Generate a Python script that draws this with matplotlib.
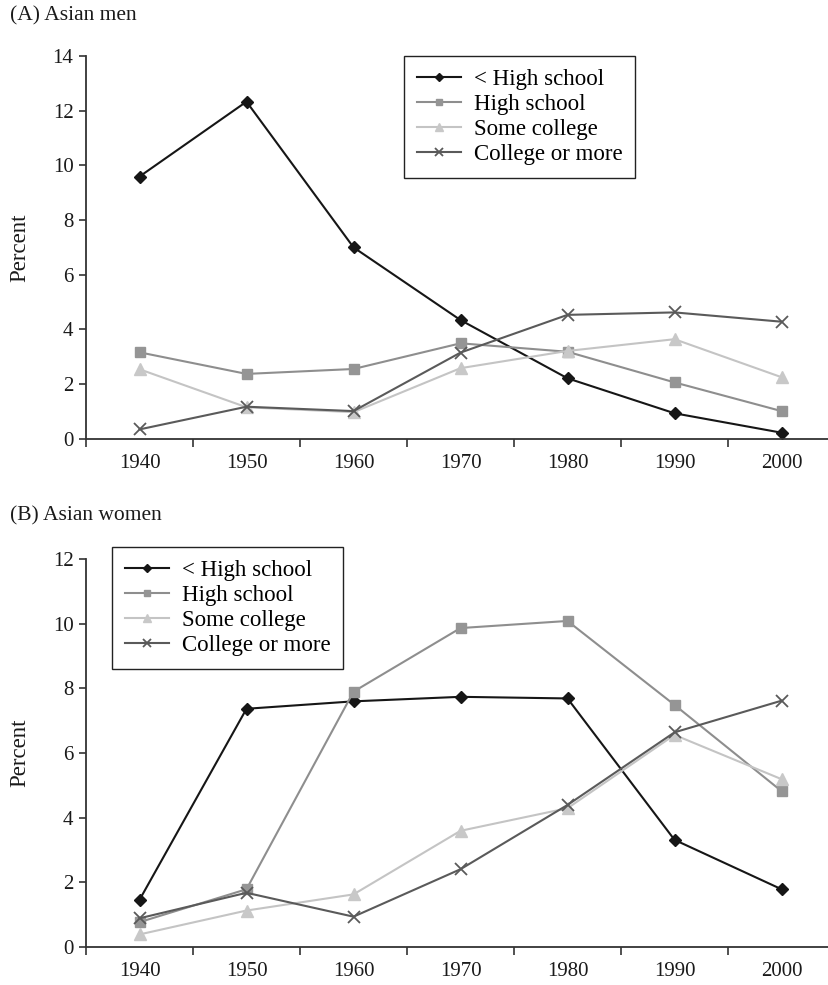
import matplotlib
matplotlib.use("Agg")
import matplotlib.pyplot as plt
import numpy as np

plt.rcParams['font.family'] = ['Liberation Serif', 'DejaVu Serif']

years = ['1940', '1950', '1960', '1970', '1980', '1990', '2000']
series_names = ['< High school', 'High school', 'Some college', 'College or more']

# (A) Asian men
men_lt_hs = [9.59, 12.33, 7.00, 4.34, 2.21, 0.93, 0.22]
men_hs = [3.16, 2.37, 2.55, 3.49, 3.18, 2.06, 1.01]
men_sc = [2.54, 1.15, 0.97, 2.58, 3.21, 3.64, 2.25]
men_col = [0.34, 1.17, 1.01, 3.15, 4.53, 4.62, 4.28]

# (B) Asian women
women_lt_hs = [1.45, 7.37, 7.60, 7.74, 7.69, 3.31, 1.78]
women_hs = [0.76, 1.78, 7.90, 9.87, 10.09, 7.49, 4.82]
women_sc = [0.38, 1.12, 1.62, 3.59, 4.29, 6.56, 5.19]
women_col = [0.88, 1.67, 0.93, 2.40, 4.39, 6.64, 7.62]

styles = [
    dict(color='#161616', marker='D', markersize=6.5, mfc='#161616', mec='#161616'),
    dict(color='#8e8e8e', marker='s', markersize=7, mfc='#959595', mec='#959595'),
    dict(color='#c4c4c4', marker='^', markersize=8, mfc='#c8c8c8', mec='#c8c8c8'),
    dict(color='#5a5a5a', marker='x', markersize=9, mew=1.3, mfc='#5a5a5a', mec='#5a5a5a'),
]

fig = plt.figure(figsize=(8.29, 9.85), dpi=100)
W, H = 829, 985
title_y = {'(A) Asian men': 16, '(B) Asian women': 516}


def panel(rect_px, data, ymax, title, legend_anchor):
    left, top, right, bottom = rect_px
    ax = fig.add_axes([left / W, 1 - bottom / H, (right - left) / W, (bottom - top) / H])
    x = np.arange(len(years)) + 0.5
    for vals, name, st in zip(data, series_names, styles):
        ax.plot(x, vals, label=name, linewidth=1.5, clip_on=False, **st)
    ax.set_xlim(0, len(years))
    ax.set_ylim(0, ymax)
    ax.set_yticks(np.arange(0, ymax + 1, 2))
    ax.set_xticks(np.arange(0, len(years) + 1))
    ax.set_xticklabels([])
    ax.set_xticks(x, minor=True)
    ax.set_xticklabels(years, minor=True)
    ax.tick_params(axis='x', which='major', length=6, width=1.2, color='#333333', direction='out')
    ax.tick_params(axis='x', which='minor', length=0, pad=11, labelsize=15, labelcolor='#1a1a1a')
    ax.tick_params(axis='y', length=5, width=1.2, color='#333333', pad=4, labelsize=15, labelcolor='#1a1a1a')
    for s in ['top', 'right']:
        ax.spines[s].set_visible(False)
    for s in ['left', 'bottom']:
        ax.spines[s].set_color('#333333')
        ax.spines[s].set_linewidth(1.3)
    ax.set_ylabel('Percent', fontsize=16.5, color='#1a1a1a')
    ax.yaxis.set_label_coords(-0.075, 0.5)
    fig.text(10 / W, 1 - title_y[title] / H, title, fontsize=15.5, color='#1a1a1a', va='center', ha='left')
    leg = ax.legend(loc='upper left', bbox_to_anchor=legend_anchor, borderaxespad=0,
                    fancybox=False, edgecolor='#222222', fontsize=16.5, handlelength=1.95,
                    labelspacing=0.18, borderpad=0.55, handletextpad=0.55, framealpha=1)
    leg.get_frame().set_linewidth(1.0)
    for h in leg.legend_handles:
        h.set_markersize(h.get_markersize() * 0.7)
    return ax


panel((86, 56, 835, 438.7), [men_lt_hs, men_hs, men_sc, men_col], 14, '(A) Asian men', (0.4246, 1.0))
panel((86, 559.3, 835, 946.7), [women_lt_hs, women_hs, women_sc, women_col], 12, '(B) Asian women', (0.0347, 1.032))

fig.savefig('out.png', dpi=100)
